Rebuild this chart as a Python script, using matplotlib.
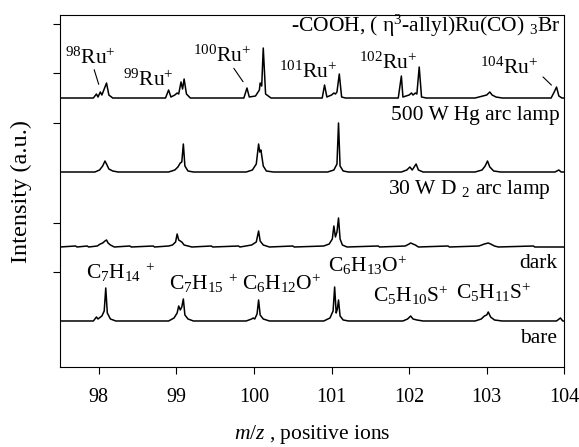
import matplotlib
matplotlib.use("Agg")
import matplotlib.pyplot as plt

plt.rcParams['font.family'] = ['Liberation Serif', 'DejaVu Serif']
plt.rcParams['mathtext.fontset'] = 'custom'
plt.rcParams['mathtext.rm'] = 'Liberation Serif'
plt.rcParams['mathtext.it'] = 'Liberation Serif:italic'

# spectra: m/z and height above each trace's baseline
ru_mz = [97.5, 97.93, 97.97, 97.99, 98.02, 98.04, 98.07, 98.10, 98.13, 98.18,
         98.86, 98.90, 98.93, 98.98, 99.01, 99.03, 99.06, 99.08, 99.10, 99.13, 99.18,
         99.87, 99.91, 99.94, 100.02, 100.07, 100.08, 100.10, 100.12, 100.15, 100.22,
         100.88, 100.91, 100.94, 101.00, 101.03, 101.05, 101.07, 101.10, 101.13, 101.18,
         101.86, 101.90, 101.92, 102.00, 102.03, 102.05, 102.08, 102.10, 102.13, 102.16, 102.22,
         102.85, 102.95, 103.00, 103.04, 103.07, 103.12, 103.20,
         103.83, 103.87, 103.90, 103.93, 103.97, 104.0]
ru_int = [0, 0, 4, 1, 6, 3, 9, 15, 3, 0,
          0, 8, 1, 3, 5, 4, 16, 9, 19, 4, 0,
          0, 10, 1, 2, 8, 15, 12, 50, 4, 0,
          0, 13, 1, 3, 5, 4, 6, 24, 1, 0,
          0, 22, 1, 3, 5, 3, 5, 4, 31, 1, 0,
          0, 2, 3, 6, 3, 1, 0,
          0, 6, 11, 2, 0, 0]

hg_mz = [97.5, 97.95, 98.01, 98.05, 98.08, 98.10, 98.13, 98.18, 98.25,
         98.9, 98.98, 99.02, 99.05, 99.07, 99.09, 99.11, 99.15, 99.22,
         99.9, 99.98, 100.03, 100.06, 100.075, 100.09, 100.12, 100.16, 100.25,
         100.95, 101.03, 101.07, 101.09, 101.11, 101.15, 101.22,
         101.9, 101.97, 102.01, 102.04, 102.09, 102.12, 102.18,
         102.85, 102.94, 102.98, 103.01, 103.04, 103.09, 103.18,
         103.88, 103.93, 103.96, 104.0]
hg_int = [0, 0, 2, 6, 11, 8, 3, 1, 0,
          0, 2, 5, 9, 10, 28, 6, 1, 0,
          0, 2, 8, 28, 20, 22, 6, 1, 0,
          0, 2, 8, 49, 6, 1, 0,
          0, 2, 5, 2, 8, 2, 0,
          0, 2, 6, 11, 5, 1, 0,
          0, 2, 0, 0]

d2_mz = [97.5, 97.7, 97.72, 97.85, 97.87, 97.98, 98.02, 98.05, 98.08, 98.10, 98.12, 98.15, 98.2,
         98.4, 98.42, 98.7, 98.72, 98.9, 98.95, 98.99, 99.01, 99.03, 99.05, 99.07, 99.10, 99.15, 99.2,
         99.45, 99.47, 99.8, 99.82, 99.97, 100.03, 100.06, 100.08, 100.12, 100.2,
         100.5, 100.52, 100.9, 100.97, 101.01, 101.03, 101.05, 101.07, 101.09, 101.11, 101.14, 101.2,
         101.6, 101.62, 101.95, 102.0, 102.02, 102.05, 102.08, 102.12,
         102.5, 102.52, 102.9, 102.97, 103.02, 103.05, 103.1, 103.15,
         103.6, 103.62, 104.0]
d2_int = [0, 1, 0, 1, 0, 1, 3, 4, 6, 7, 4, 2, 0,
          1, 0, 1, 0, 1, 2, 5, 13, 7, 6, 5, 2, 1, 0,
          1, 0, 1, 0, 2, 5, 16, 6, 2, 0,
          1, 0, 1, 3, 8, 21, 10, 15, 29, 8, 2, 0,
          1, 0, 1, 3, 4, 3, 2, 0,
          1, 0, 1, 3, 4, 3, 1, 0,
          1, 0, 0]

bare_mz = [97.5, 97.93, 97.97, 97.99, 98.04, 98.07, 98.09, 98.11, 98.15, 98.22,
           98.9, 98.97, 99.01, 99.03, 99.05, 99.07, 99.09, 99.11, 99.15, 99.22,
           99.9, 99.97, 99.99, 100.01, 100.04, 100.06, 100.08, 100.12, 100.2,
           100.9, 100.98, 101.02, 101.04, 101.06, 101.075, 101.09, 101.11, 101.15, 101.22,
           101.92, 101.98, 102.02, 102.05, 102.1, 102.18,
           102.85, 102.93, 102.97, 103.0, 103.02, 103.05, 103.1, 103.2,
           103.9, 103.95, 103.98, 104.0]
bare_int = [0, 0, 4, 2, 5, 10, 33, 8, 2, 0,
            0, 3, 8, 15, 11, 14, 22, 6, 2, 0,
            0, 2, 3, 2, 7, 21, 6, 2, 0,
            0, 3, 10, 34, 8, 12, 21, 5, 1, 0,
            0, 2, 5, 2, 1, 0,
            0, 2, 5, 6, 9, 4, 1, 0,
            0, 3, 0, 0]

xticks = [98, 99, 100, 101, 102, 103, 104]

fig = plt.figure(figsize=(5.79, 4.47), dpi=100)
ax = fig.add_axes([0.1036, 0.179, 0.871, 0.7874])

offsets = [269, 195, 120, 46]
for mz, inten, off in zip([ru_mz, hg_mz, d2_mz, bare_mz],
                          [ru_int, hg_int, d2_int, bare_int], offsets):
    ax.plot(mz, [v + off for v in inten], color='black', lw=1.1)

ax.set_xlim(97.5, 104)
ax.set_ylim(0, 352)
ax.set_xticks(xticks)
ax.set_yticks([343, 294, 244, 144, 95])
ax.set_yticklabels([])
ax.tick_params(direction='out', length=5, width=0.8, labelsize=14.5)
ax.tick_params(axis='x', pad=10)
ax.set_xlabel('$m/z$ , positive ions', fontsize=15.5, labelpad=12)
ax.set_ylabel('Intensity (a.u.)', fontsize=17.5, labelpad=12)

fs = 15.5
# sample / condition labels
ax.text(103.95, 335, '-COOH, ( η$^{3}$-allyl)Ru(CO) $_{3}$Br', ha='right', va='baseline', fontsize=fs)
ax.text(103.94, 247, '500 W Hg arc lamp', ha='right', va='baseline', fontsize=fs)
ax.text(103.82, 173, '30 W D $_{2}$ arc lamp', ha='right', va='baseline', fontsize=fs)
ax.text(103.91, 99, 'dark', ha='right', va='baseline', fontsize=fs)
ax.text(103.91, 24, 'bare', ha='right', va='baseline', fontsize=fs)

# Ru isotope labels
ax.text(97.56, 303, '$^{98}$Ru$^{+}$', fontsize=fs, va='baseline')
ax.text(98.31, 281, '$^{99}$Ru$^{+}$', fontsize=fs, va='baseline')
ax.text(99.22, 305, '$^{100}$Ru$^{+}$', fontsize=fs, va='baseline')
ax.text(100.32, 289, '$^{101}$Ru$^{+}$', fontsize=fs, va='baseline')
ax.text(101.35, 298, '$^{102}$Ru$^{+}$', fontsize=fs, va='baseline')
ax.text(102.91, 293, '$^{104}$Ru$^{+}$', fontsize=fs, va='baseline')
for p0, p1 in [((97.93, 300), (98.01, 280)), ((99.72, 301), (99.88, 283)),
               ((103.70, 292), (103.86, 280))]:
    ax.annotate('', xy=p1, xytext=p0, arrowprops=dict(arrowstyle='-', lw=0.8, color='black'))

# fragment ion labels on the bare spectrum
ax.text(97.83, 88, 'C$_{7}$H$_{14}$ $^{+}$', fontsize=fs, va='baseline')
ax.text(98.90, 77, 'C$_{7}$H$_{15}$ $^{+}$', fontsize=fs, va='baseline')
ax.text(99.85, 77, 'C$_{6}$H$_{12}$O$^{+}$', fontsize=fs, va='baseline')
ax.text(100.96, 95, 'C$_{6}$H$_{13}$O$^{+}$', fontsize=fs, va='baseline')
ax.text(101.54, 65, 'C$_{5}$H$_{10}$S$^{+}$', fontsize=fs, va='baseline')
ax.text(102.60, 68, 'C$_{5}$H$_{11}$S$^{+}$', fontsize=fs, va='baseline')

fig.savefig('out.png', dpi=100)
